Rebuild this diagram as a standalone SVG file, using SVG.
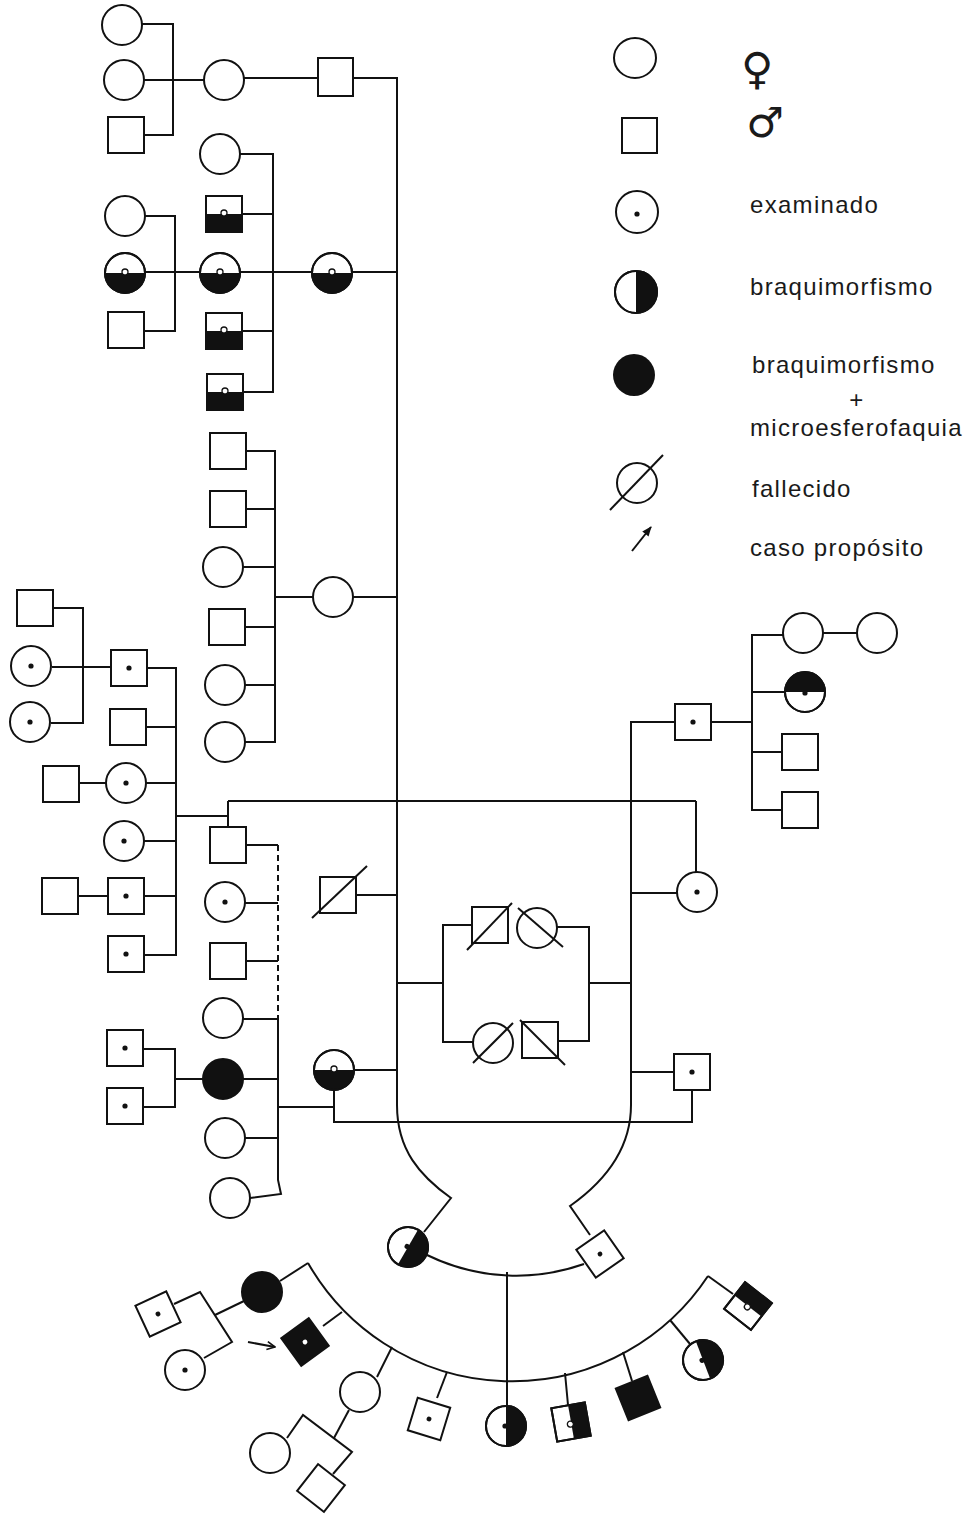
<svg xmlns="http://www.w3.org/2000/svg" width="971" height="1517" viewBox="0 0 971 1517">
<style>
.n{fill:#fff;stroke:#111;stroke-width:2}
.k{fill:#111}
.o{fill:none;stroke:#111;stroke-width:2}
.ln line,.ln path,.ln polyline{fill:none;stroke:#111;stroke-width:2}
.ln .dash{stroke-dasharray:6 4}
.sl{stroke:#111;stroke-width:2}
.t{font-family:"Liberation Sans",Arial,sans-serif;font-size:24px;letter-spacing:1.3px;fill:#1a1a1a}
.sym{font-family:"DejaVu Sans",sans-serif;fill:#1a1a1a}
</style>
<defs>
<marker id="ah" viewBox="0 0 10 10" refX="9" refY="5" markerWidth="10" markerHeight="10" markerUnits="userSpaceOnUse" orient="auto"><path d="M1,1 L9,5 L1,9" fill="none" stroke="#111" stroke-width="1.6"/></marker>
<marker id="ahf" viewBox="0 0 10 10" refX="9" refY="5" markerWidth="10" markerHeight="10" markerUnits="userSpaceOnUse" orient="auto"><path d="M0,1 L10,5 L0,9 Z" fill="#111"/></marker>
<g id="C"><circle r="20" class="n"/></g>
<g id="S"><rect x="-18" y="-18" width="36" height="36" class="n"/></g>
<g id="CD"><circle r="20" class="n"/><circle r="2.6" class="k"/></g>
<g id="SD"><rect x="-18" y="-18" width="36" height="36" class="n"/><circle r="2.6" class="k"/></g>
<g id="CF"><circle r="20" class="k" stroke="#111" stroke-width="2"/></g>
<g id="SF"><rect x="-18" y="-18" width="36" height="36" class="k" stroke="#111" stroke-width="2"/></g>
<g id="SFP"><rect x="-17" y="-17" width="34" height="34" class="k" stroke="#111" stroke-width="2"/><circle r="2.4" fill="#fff"/></g>
<g id="CB"><circle r="20" class="n"/><path d="M-20,0 A20,20 0 0,0 20,0 Z" class="k"/><circle cy="-1" r="3" fill="#fff" stroke="#111" stroke-width="1.3"/><circle r="20" class="o"/></g>
<g id="CT"><circle r="20" class="n"/><path d="M-20,0 A20,20 0 0,1 20,0 Z" class="k"/><circle cy="1" r="2.6" class="k"/><circle r="20" class="o"/></g>
<g id="CR"><circle r="20" class="n"/><path d="M0,-20 A20,20 0 0,1 0,20 Z" class="k"/><circle cx="-1" r="2.6" class="k"/><circle r="20" class="o"/></g>
<g id="SB"><rect x="-18" y="-18" width="36" height="36" class="n"/><rect x="-18" y="0" width="36" height="18" class="k"/><circle cy="-1" r="3" fill="#fff" stroke="#111" stroke-width="1.3"/><rect x="-18" y="-18" width="36" height="36" class="o"/></g>
<g id="SR"><rect x="-17" y="-17" width="34" height="34" class="n"/><rect x="0" y="-17" width="17" height="34" class="k"/><circle cx="-1" cy="2" r="3" fill="#fff" stroke="#111" stroke-width="1.3"/><rect x="-17" y="-17" width="34" height="34" class="o"/></g>
<g id="ST"><rect x="-17" y="-17" width="34" height="34" class="n"/><rect x="-17" y="-17" width="34" height="17" class="k"/><circle cy="1" r="3" fill="#fff" stroke="#111" stroke-width="1.3"/><rect x="-17" y="-17" width="34" height="34" class="o"/></g>
<g id="SR2"><rect x="-17" y="-17" width="34" height="34" class="n"/><circle r="2.4" class="k"/></g>
<g id="SR0"><rect x="-17" y="-17" width="34" height="34" class="n"/></g>
</defs>

<!-- connectors -->
<g id="connectors" class="ln">
<polyline points="142,24 173,24 173,135 144,135"/>
<line x1="144" y1="80" x2="204" y2="80"/>
<line x1="244" y1="78" x2="318" y2="78"/>
<polyline points="354,78 397,78 397,1105"/>
<polyline points="240,154 273,154 273,392 243,392"/>
<line x1="242" y1="214" x2="273" y2="214"/>
<line x1="243" y1="331" x2="273" y2="331"/>
<line x1="145" y1="272" x2="200" y2="272"/>
<line x1="240" y1="272" x2="312" y2="272"/>
<line x1="352" y1="272" x2="397" y2="272"/>
<polyline points="145,216 175,216 175,331 145,331"/>
<polyline points="246,451 275,451 275,742 245,742"/>
<line x1="246" y1="509" x2="275" y2="509"/>
<line x1="243" y1="567" x2="275" y2="567"/>
<line x1="245" y1="627" x2="275" y2="627"/>
<line x1="245" y1="685" x2="275" y2="685"/>
<line x1="275" y1="597" x2="313" y2="597"/>
<line x1="353" y1="597" x2="397" y2="597"/>
<polyline points="53,608 83,608 83,723 51,723"/>
<line x1="52" y1="667" x2="111" y2="667"/>
<polyline points="147,668 176,668 176,955 144,955"/>
<line x1="146" y1="727" x2="176" y2="727"/>
<line x1="79" y1="783" x2="106" y2="783"/>
<line x1="146" y1="783" x2="176" y2="783"/>
<line x1="144" y1="841" x2="176" y2="841"/>
<line x1="78" y1="896" x2="108" y2="896"/>
<line x1="144" y1="896" x2="176" y2="896"/>
<line x1="176" y1="816" x2="228" y2="816"/>
<line x1="228" y1="801" x2="228" y2="827"/>
<line x1="228" y1="801" x2="696" y2="801"/>
<line x1="696" y1="801" x2="696" y2="872"/>
<line x1="246" y1="845" x2="278" y2="845"/>
<line class="dash" x1="278" y1="845" x2="278" y2="1019"/>
<polyline points="278,1019 278,1180 281,1194 250,1198"/>
<line x1="245" y1="903" x2="278" y2="903"/>
<line x1="246" y1="961" x2="278" y2="961"/>
<line x1="243" y1="1019" x2="278" y2="1019"/>
<line x1="243" y1="1079" x2="278" y2="1079"/>
<line x1="245" y1="1138" x2="278" y2="1138"/>
<line x1="356" y1="895" x2="397" y2="895"/>
<polyline points="143,1049 175,1049 175,1107 143,1107"/>
<line x1="175" y1="1079" x2="203" y2="1079"/>
<line x1="278" y1="1107" x2="334" y2="1107"/>
<polyline points="334,1090 334,1122 692,1122 692,1090"/>
<line x1="354" y1="1070" x2="397" y2="1070"/>
<line x1="397" y1="983" x2="443" y2="983"/>
<polyline points="472,925 443,925 443,1042 473,1042"/>
<polyline points="557,927 589,927 589,1041 558,1041"/>
<line x1="589" y1="983" x2="631" y2="983"/>
<polyline points="675,722 631,722 631,1105"/>
<line x1="711" y1="722" x2="752" y2="722"/>
<polyline points="783,635 752,635 752,810 782,810"/>
<line x1="823" y1="633" x2="857" y2="633"/>
<line x1="752" y1="692" x2="785" y2="692"/>
<line x1="752" y1="752" x2="782" y2="752"/>
<line x1="631" y1="893" x2="677" y2="893"/>
<line x1="631" y1="1072" x2="674" y2="1072"/>
<path d="M397,1105 C397,1150 420,1176 451,1198 L424,1232"/>
<path d="M631,1105 C631,1150 604,1182 570,1206 L590,1235"/>
<path d="M427,1255 A203,203 0 0,0 584,1264"/>
<line x1="507" y1="1272" x2="507" y2="1406"/>
<path d="M308,1263 A235,235 0 0,0 708,1276"/>
<line x1="308" y1="1263" x2="280" y2="1281"/>
<line x1="342" y1="1312" x2="323" y2="1326"/>
<line x1="392" y1="1347" x2="377" y2="1377"/>
<line x1="447" y1="1372" x2="437" y2="1398"/>
<line x1="565" y1="1373" x2="568" y2="1405"/>
<line x1="623" y1="1352" x2="632" y2="1381"/>
<line x1="670" y1="1320" x2="690" y2="1344"/>
<line x1="708" y1="1276" x2="733" y2="1294"/>
<polyline points="174,1304 200,1292 232,1342 204,1358"/>
<line x1="215" y1="1315" x2="244" y2="1301"/>
<polyline points="287,1438 303,1415 352,1452 333,1474"/>
<line x1="349" y1="1410" x2="334" y2="1438"/>
<line x1="248" y1="1342" x2="275" y2="1347" marker-end="url(#ah)"/>
</g>

<!-- nodes -->
<g id="n1"><use href="#C" x="122" y="25"/></g>
<g id="n2"><use href="#C" x="124" y="80"/></g>
<g id="n3"><use href="#S" x="126" y="135"/></g>
<g id="n4"><use href="#C" x="224" y="80"/></g>
<g id="n5"><rect x="318" y="58" width="35" height="38" class="n"/></g>
<g id="n6"><use href="#C" x="220" y="154"/></g>
<g id="n7"><use href="#SB" x="224" y="214"/></g>
<g id="n8"><use href="#CB" x="220" y="273"/></g>
<g id="n9"><use href="#SB" x="224" y="331"/></g>
<g id="n10"><use href="#SB" x="225" y="392"/></g>
<g id="n11"><use href="#CB" x="332" y="273"/></g>
<g id="n12"><use href="#C" x="125" y="216"/></g>
<g id="n13"><use href="#CB" x="125" y="273"/></g>
<g id="n14"><use href="#S" x="126" y="330"/></g>
<g id="n15"><use href="#S" x="228" y="451"/></g>
<g id="n16"><use href="#S" x="228" y="509"/></g>
<g id="n17"><use href="#C" x="223" y="567"/></g>
<g id="n18"><use href="#S" x="227" y="627"/></g>
<g id="n19"><use href="#C" x="225" y="685"/></g>
<g id="n20"><use href="#C" x="225" y="742"/></g>
<g id="n21"><use href="#C" x="333" y="597"/></g>
<g id="n22"><use href="#S" x="35" y="608"/></g>
<g id="n23"><use href="#CD" x="31" y="666"/></g>
<g id="n24"><use href="#CD" x="30" y="722"/></g>
<g id="n25"><use href="#SD" x="129" y="668"/></g>
<g id="n26"><use href="#S" x="128" y="727"/></g>
<g id="n27"><use href="#S" x="61" y="784"/></g>
<g id="n28"><use href="#CD" x="126" y="783"/></g>
<g id="n29"><use href="#CD" x="124" y="841"/></g>
<g id="n30"><use href="#S" x="60" y="896"/></g>
<g id="n31"><use href="#SD" x="126" y="896"/></g>
<g id="n32"><use href="#SD" x="126" y="954"/></g>
<g id="n33"><use href="#S" x="228" y="845"/></g>
<g id="n34"><use href="#CD" x="225" y="902"/></g>
<g id="n35"><use href="#S" x="228" y="961"/></g>
<g id="n36"><use href="#S" x="338" y="895"/><line x1="312" y1="918" x2="367" y2="866" class="sl"/></g>
<g id="n37"><use href="#C" x="223" y="1018"/></g>
<g id="n38"><use href="#CF" x="223" y="1079"/></g>
<g id="n39"><use href="#C" x="225" y="1138"/></g>
<g id="n40"><use href="#C" x="230" y="1198"/></g>
<g id="n41"><use href="#SD" x="125" y="1048"/></g>
<g id="n42"><use href="#SD" x="125" y="1106"/></g>
<g id="n43"><use href="#CB" x="334" y="1070"/></g>
<g id="n44"><use href="#S" x="490" y="925"/><line x1="467" y1="950" x2="512" y2="903" class="sl"/></g>
<g id="n45"><use href="#C" x="537" y="928"/><line x1="518" y1="908" x2="563" y2="947" class="sl"/></g>
<g id="n46"><use href="#C" x="493" y="1043"/><line x1="473" y1="1063" x2="513" y2="1023" class="sl"/></g>
<g id="n47"><use href="#S" x="540" y="1040"/><line x1="520" y1="1020" x2="565" y2="1065" class="sl"/></g>
<g id="n48"><use href="#SD" x="693" y="722"/></g>
<g id="n49"><use href="#C" x="803" y="633"/></g>
<g id="n50"><use href="#C" x="877" y="633"/></g>
<g id="n51"><use href="#CT" x="805" y="692"/></g>
<g id="n52"><use href="#S" x="800" y="752"/></g>
<g id="n53"><use href="#S" x="800" y="810"/></g>
<g id="n54"><use href="#CD" x="697" y="892"/></g>
<g id="n55"><use href="#SD" x="692" y="1072"/></g>
<g id="n56"><use href="#CR" transform="translate(408,1247) rotate(30)"/></g>
<g id="n57"><use href="#SR2" transform="translate(600,1254) rotate(-35)"/></g>
<g id="n58"><use href="#CF" x="262" y="1292"/></g>
<g id="n59"><use href="#SR2" transform="translate(158,1314) rotate(-25)"/></g>
<g id="n60"><use href="#CD" x="185" y="1370"/></g>
<g id="n61"><use href="#SFP" transform="translate(305,1342) rotate(-36)"/></g>
<g id="n62"><use href="#C" x="360" y="1392"/></g>
<g id="n63"><use href="#C" x="270" y="1453"/></g>
<g id="n64"><use href="#SR0" transform="translate(321,1488) rotate(38)"/></g>
<g id="n65"><use href="#SR2" transform="translate(429,1419) rotate(17)"/></g>
<g id="n66"><use href="#CR" x="506" y="1426"/></g>
<g id="n67"><use href="#SR" transform="translate(571,1422) rotate(-10)"/></g>
<g id="n68"><use href="#SF" transform="translate(638,1398) rotate(-22) scale(0.95)"/></g>
<g id="n69"><use href="#CR" transform="translate(703,1360) rotate(-21)"/></g>
<g id="n70"><use href="#ST" transform="translate(748,1306) rotate(38)"/></g>

<!-- legend -->
<g id="legend">
<ellipse cx="635" cy="58" rx="21" ry="20" class="n"/>
<text class="sym" x="757" y="84" font-size="44" text-anchor="middle">♀</text>
<rect x="622" y="118" width="35" height="35" class="n"/>
<text class="sym" x="765" y="137" font-size="42" text-anchor="middle">♂</text>
<circle cx="637" cy="212" r="21" class="n"/><circle cx="637" cy="214" r="2.6" class="k"/>
<text class="t" x="750" y="213">examinado</text>
<circle cx="636" cy="292" r="21" class="n"/><path d="M636,271 A21,21 0 0,1 636,313 Z" class="k"/><circle cx="636" cy="292" r="21" class="o"/>
<text class="t" x="750" y="295">braquimorfismo</text>
<circle cx="634" cy="375" r="21" class="k"/>
<text class="t" x="752" y="373">braquimorfismo</text>
<text class="t" x="857" y="408" font-size="20" text-anchor="middle" letter-spacing="0">+</text>
<text class="t" x="750" y="436">microesferofaquia</text>
<circle cx="637" cy="483" r="20" class="n"/><line x1="610" y1="510" x2="663" y2="455" class="sl"/>
<text class="t" x="752" y="497">fallecido</text>
<line x1="632" y1="551" x2="651" y2="527" class="sl" marker-end="url(#ahf)"/>
<text class="t" x="750" y="556">caso propósito</text>
</g>
</svg>
